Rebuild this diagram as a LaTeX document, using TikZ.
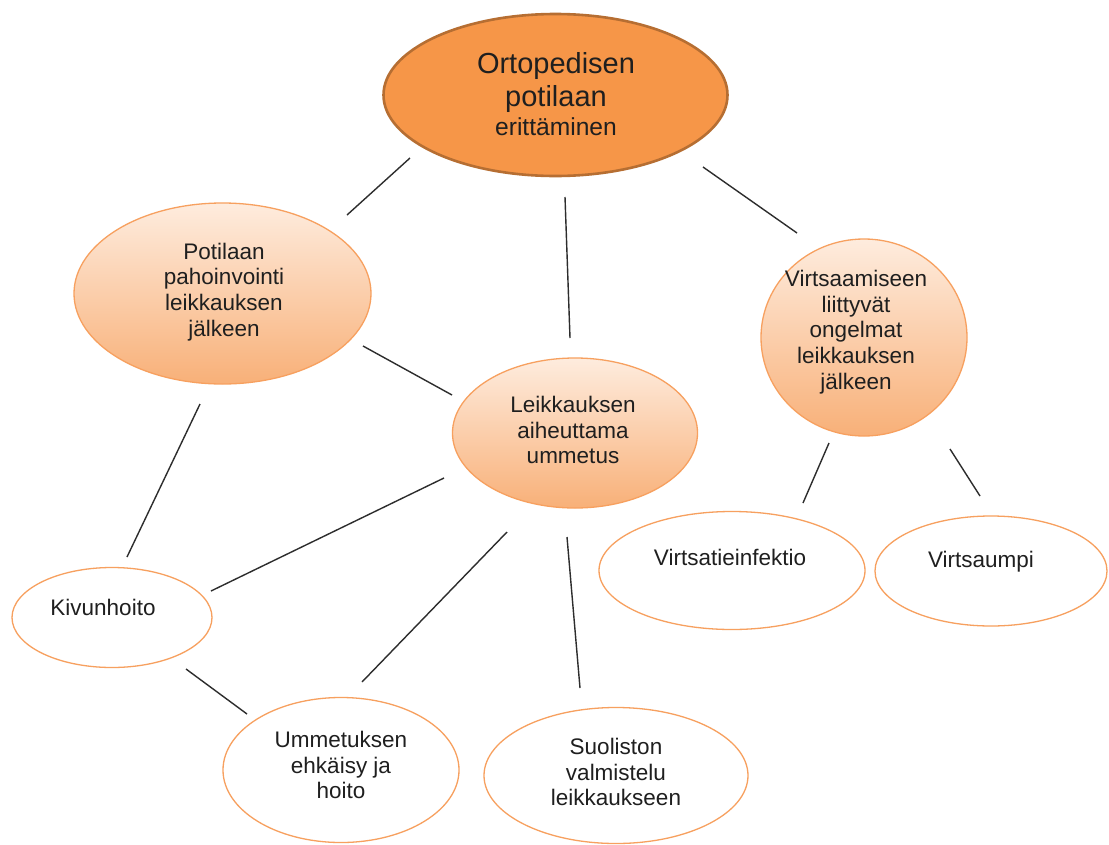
\documentclass[tikz,border=0pt]{standalone}
\usepackage{fontspec}
\setmainfont{Liberation Sans}
\usetikzlibrary{shapes.geometric}
\definecolor{orangemain}{RGB}{246,150,72}
\definecolor{orangedark}{RGB}{182,110,50}
\definecolor{orangeline}{RGB}{247,160,95}
\definecolor{peachtop}{RGB}{254,236,222}
\definecolor{peachbot}{RGB}{248,176,120}
\definecolor{linkcol}{RGB}{45,45,45}
\tikzset{
  mainell/.style={ellipse, draw=orangedark, line width=2.6pt, fill=orangemain, inner sep=0pt},
  subell/.style={ellipse, draw=orangeline, line width=1.3pt, top color=peachtop, bottom color=peachbot, inner sep=0pt},
  leafell/.style={ellipse, draw=orangeline, line width=1.3pt, fill=white, inner sep=0pt},
  txt/.style={align=center, text=black!88, font=\fontsize{22.5}{25.7}\selectfont, inner sep=0pt},
  link/.style={draw=linkcol, line width=1.4pt}
}
\begin{document}
\begin{tikzpicture}[x=1pt,y=-1pt]
\useasboundingbox[fill=white] (0,0) rectangle (1109,844);
% ellipses
\node[mainell, minimum width=344pt, minimum height=162pt] (top) at (555.5,95) {};
\node[subell, minimum width=297pt, minimum height=181pt] (pot) at (222.5,293.5) {};
\node[subell, minimum width=245pt, minimum height=150pt] (leik) at (575,433) {};
\node[subell, minimum width=206pt, minimum height=197pt] (virt) at (864,337.5) {};
\node[leafell, minimum width=200pt, minimum height=100pt] (kivu) at (112,617.5) {};
\node[leafell, minimum width=266pt, minimum height=118pt] (vinf) at (732,570.5) {};
\node[leafell, minimum width=232pt, minimum height=110pt] (vump) at (991,571) {};
\node[leafell, minimum width=236pt, minimum height=145pt] (umme) at (341,770) {};
\node[leafell, minimum width=264pt, minimum height=136pt] (suol) at (616,775.5) {};
% texts
\node[txt, anchor=base, font=\fontsize{29}{34}\selectfont] (topt1) at (556,73) {Ortopedisen};
\node[txt, anchor=base, font=\fontsize{29}{34}\selectfont] (topt2) at (556,106) {potilaan};
\node[txt, anchor=base, font=\fontsize{24.6}{29}\selectfont] (topt3) at (556,135) {erittäminen};
\node[txt] (pott) at (224,292) {Potilaan\\pahoinvointi\\leikkauksen\\jälkeen};
\node[txt] (leikt) at (573,430) {Leikkauksen\\aiheuttama\\ummetus};
\node[txt] (virtt) at (856,332) {Virtsaamiseen\\liittyvät\\ongelmat\\leikkauksen\\jälkeen};
\node[txt] (kivut) at (103,607) {Kivunhoito};
\node[txt] (vinft) at (730,557) {Virtsatieinfektio};
\node[txt] (vumpt) at (981,562) {Virtsaumpi};
\node[txt] (ummet) at (341,765) {Ummetuksen\\ehkäisy ja\\hoito};
\node[txt] (suolt) at (616,772) {Suoliston\\valmistelu\\leikkaukseen};
% connector end points
\coordinate (a1) at (410,158); \coordinate (b1) at (347,215);
\coordinate (a2) at (565,197); \coordinate (b2) at (570,338);
\coordinate (a3) at (703,167); \coordinate (b3) at (797,233);
\coordinate (a4) at (363,346); \coordinate (b4) at (452,395);
\coordinate (a5) at (200,404); \coordinate (b5) at (127,557);
\coordinate (a6) at (444,478); \coordinate (b6) at (211,591);
\coordinate (a7) at (507,532); \coordinate (b7) at (362,682);
\coordinate (a8) at (567,537); \coordinate (b8) at (580,688);
\coordinate (a9) at (186,669); \coordinate (b9) at (247,714);
\coordinate (a10) at (829,443); \coordinate (b10) at (803,503);
\coordinate (a11) at (950,449); \coordinate (b11) at (980,496);
% connectors
\draw[link] (a1) -- (b1);
\draw[link] (a2) -- (b2);
\draw[link] (a3) -- (b3);
\draw[link] (a4) -- (b4);
\draw[link] (a5) -- (b5);
\draw[link] (a6) -- (b6);
\draw[link] (a7) -- (b7);
\draw[link] (a8) -- (b8);
\draw[link] (a9) -- (b9);
\draw[link] (a10) -- (b10);
\draw[link] (a11) -- (b11);
\end{tikzpicture}
\end{document}
